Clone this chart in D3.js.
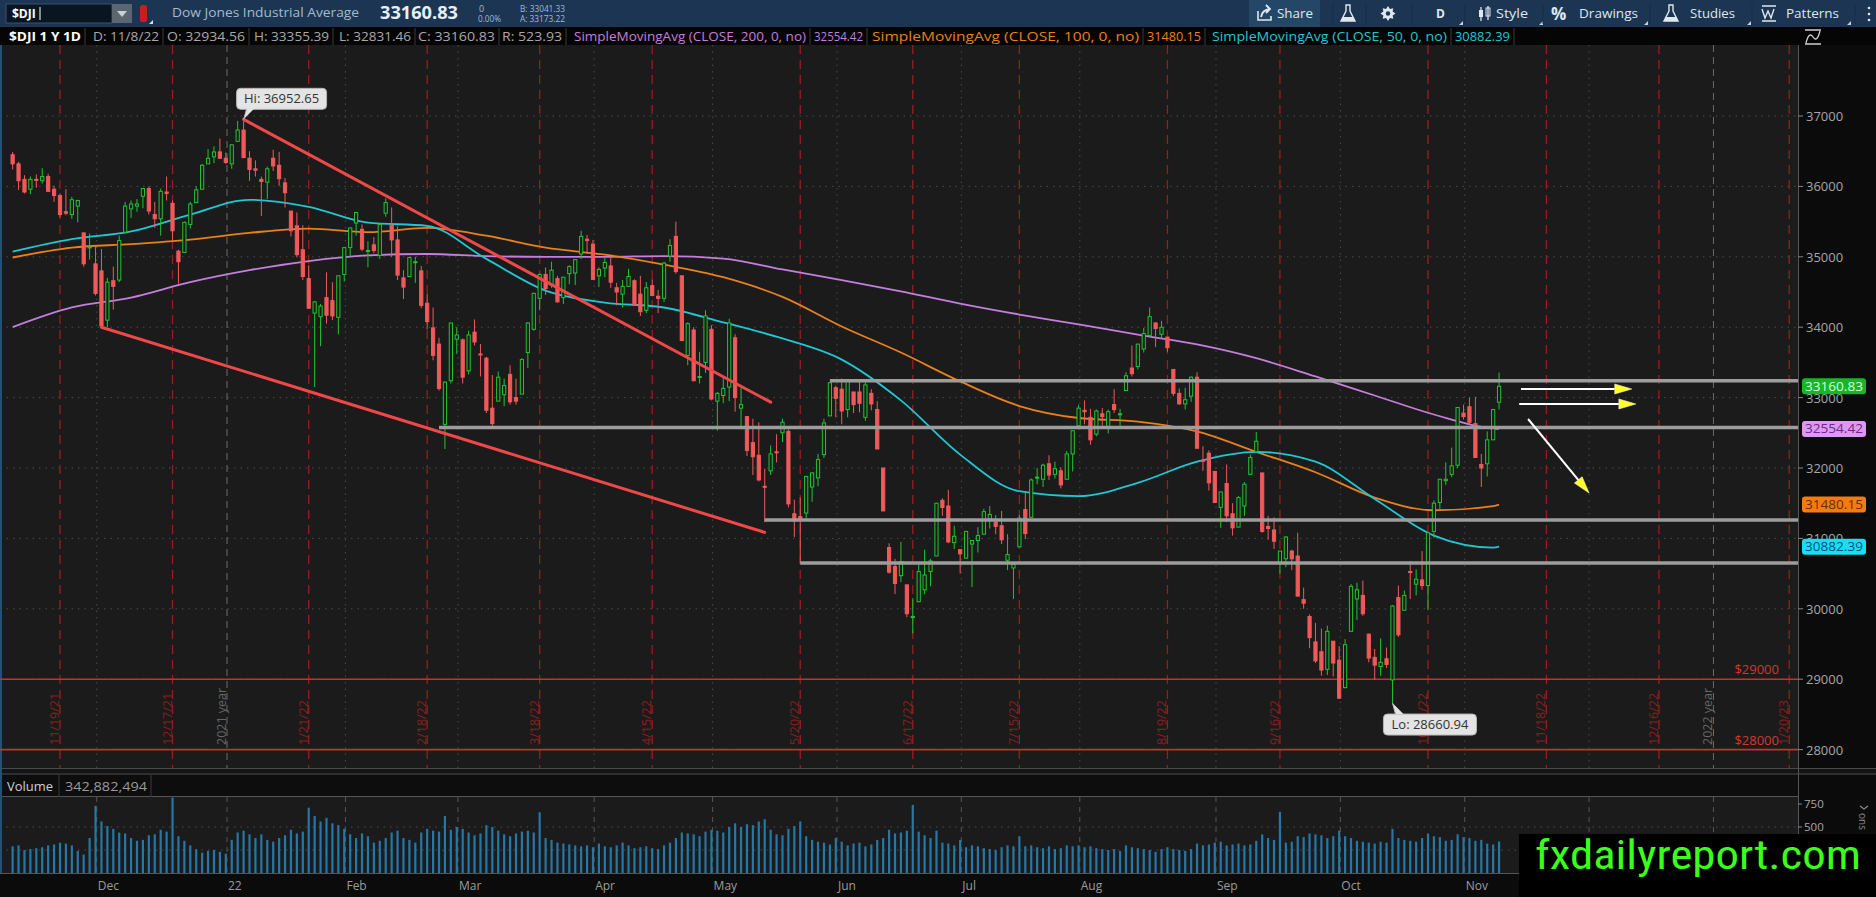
<!DOCTYPE html>
<html>
<head>
<meta charset="utf-8">
<script src="https://cdn.jsdelivr.net/npm/d3@7"></script>
<style>
html, body { margin: 0; padding: 0; background: #0b0b0b; overflow: hidden; }
svg { display: block; font-family: "Open Sans", "Liberation Sans", sans-serif; }
</style>
</head>
<body>
<div id="chart"></div>
<script>
// $DJI daily, 11/9/21 - 11/8/22

const opens = [
36450,36320,36100,35960,36100,36080,36140,35960,35870,35640,
35600,35720,35340,35140,34900,34800,34100,34660,34670,35350,
35680,35720,35860,35970,35600,35540,35920,35760,35080,35060,
35460,35770,35960,36320,36420,36490,36400,36320,36640,36800,
36400,36250,36100,36060,36400,36300,36050,35650,35440,35100,
34690,34200,34150,34420,34380,34140,34750,35130,35480,35390,
35080,35170,35020,35620,35450,35240,34700,34720,34920,34800,
34340,33990,33760,32620,33240,33830,33820,33380,33930,33620,
33560,32850,32950,33040,33330,33000,33050,33640,33970,34410,
34750,34600,34690,34420,34760,34770,35040,35250,35180,34730,
34840,34870,34560,34470,34580,34660,34470,34240,34590,34440,
34410,35010,35290,34730,33600,33960,33290,33500,33970,32950,
33030,33150,33850,32850,32730,32360,32180,31740,31960,32230,
32500,32520,31350,31310,31360,31730,31860,32190,32740,33140,
33120,32830,33080,33080,32720,33060,32830,32000,30870,30600,
30470,30340,29890,30100,30270,30530,30750,31540,31460,30940,
30840,30720,30920,30970,31060,31280,31230,31180,30690,30580,
30880,31410,31300,31860,31840,32060,31910,31960,31840,32200,
32600,32820,32720,32480,32770,32580,32900,32760,33100,33420,
33440,33690,33880,34060,33900,33860,33400,33060,32910,33020,
33290,32110,32210,31950,31440,31780,31350,31160,31460,31910,
32230,31930,31170,31120,30640,30710,30820,30750,30130,29890,
29530,29390,29140,29540,29270,28880,29680,30140,30190,29640,
29310,29180,29290,28990,30160,29980,30530,30350,30410,30330,
31100,31510,31820,31910,32040,32780,32870,32630,32050,32060,
32400,32934.56];

const highs = [
36490,36350,36160,36140,36170,36260,36180,36010,35900,35960,
35850,35810,35340,35330,35150,35110,34700,34860,35300,35780,
35800,35820,35980,36000,35780,35970,36140,35800,35100,35500,
35780,36000,36320,36530,36570,36680,36480,36600,36930,36952.65,
36500,36370,36140,36280,36520,36490,36120,35650,35630,35450,
34880,34370,34330,34780,34640,34730,35140,35410,35630,35460,
35220,35280,35480,35830,35700,35430,34810,35000,35000,34870,
34470,34280,33850,33230,34060,34000,33840,33950,34110,33760,
33580,33320,33370,33270,33460,33270,33560,34070,34490,34760,
34850,34930,34730,34710,34880,34960,35370,35310,35240,34850,
34990,35000,34630,34670,34830,34680,34730,34640,34680,34530,
34930,35250,35500,34730,34070,34000,33650,34240,34030,33080,
33300,34120,33900,33140,32740,32700,32650,31990,32320,32480,
32700,32550,31550,31580,31890,31940,32200,32700,33220,33170,
33270,33250,33080,33240,33230,33120,32950,32000,30930,30710,
30950,30340,30150,30650,30840,30710,31500,31570,31690,31180,
30840,31100,30930,31160,31420,31460,31330,31390,31060,30620,
31330,31650,31850,32000,32060,32180,32090,32010,32240,32530,
32900,32960,32840,32830,32850,32830,33120,32840,33360,33740,
33760,33990,34280,34070,34090,33860,33400,33130,33140,33300,
33360,32310,32250,31960,31660,32050,31500,31600,31800,32190,
32510,31930,31320,31300,30820,31030,30840,31080,30300,29920,
29800,29720,29760,29540,29470,29570,30350,30370,30400,29650,
29430,29580,29450,30050,30330,30260,30680,30560,30820,31090,
31540,31840,32080,32290,32860,32900,33000,33010,32200,32520,
32840,33355.39];

const lows = [
36240,35950,35900,35890,35980,36040,35920,35780,35560,35590,
35540,35490,34860,34960,34450,34000,34000,34250,34640,35350,
35550,35640,35690,35600,35410,35300,35800,35240,34620,35060,
35400,35770,35960,36320,36330,36390,36320,36250,36640,36400,
36080,36140,35580,35820,36220,36010,35700,35290,34990,34670,
34260,33150,33730,34050,34100,33900,34650,35000,35300,35080,
34850,35050,34970,35570,35000,34670,34400,34720,34630,34270,
33970,33530,33100,32270,33200,33620,33200,33330,33740,33300,
32780,32580,32950,32880,32900,32900,33050,33420,33950,34240,
34460,34560,34350,34330,34610,34600,34970,35040,34670,34570,
34710,34560,34310,34280,34580,34300,34160,34200,34440,34200,
34360,34930,34760,33800,33460,33230,33200,33350,32960,32530,
32920,32950,32800,32550,32170,31900,31810,31230,31900,32080,
32370,31440,31020,30640,31280,31520,31740,32140,32740,32720,
32620,32720,32780,32790,32670,32820,32270,31390,30500,30210,
30380,29880,29650,30100,30210,30320,30750,31320,30930,30850,
30500,30710,30310,30800,31060,31140,31060,30920,30550,30140,
30880,30990,31300,31770,31730,31830,31850,31710,31830,31950,
32550,32620,32330,32450,32600,32490,32780,32600,33100,33300,
33400,33640,33860,33720,33830,33650,33020,32900,32830,32940,
32280,31960,31680,31510,31150,31230,31040,31160,31320,31900,
32230,31080,30980,30850,30500,30590,30550,30180,30000,29440,
29230,29050,29060,29040,28720,28870,29680,29840,29900,29240,
28990,29050,29160,28660.94,29600,29980,30140,30190,30270,29980,
31010,31420,31760,31870,32000,32690,32610,32150,31730,31880,
32400,32831.46];

const closes = [
36320,36080,35920,36100,36090,36140,35930,35870,35600,35620,
35810,35800,34900,35140,34480,34020,34640,34580,35230,35720,
35750,35750,35970,35650,35540,35930,35900,35370,34930,35490,
35750,35950,36300,36400,36490,36400,36340,36590,36800,36410,
36240,36230,36070,36250,36290,36110,35910,35370,35030,34720,
34270,34360,34300,34170,34160,34730,35130,35410,35630,35110,
35090,35090,35460,35770,35240,34740,34570,34990,34930,34310,
34080,33600,33130,33220,34060,33890,33290,33890,33790,33610,
32820,32630,33290,33170,32940,32950,33540,34060,34480,34750,
34550,34810,34360,34710,34860,34960,35290,35230,34680,34820,
34920,34640,34500,34580,34720,34310,34220,34560,34450,34410,
34910,35160,34790,33810,34050,33240,33300,34160,32980,33060,
33130,34060,33000,32900,32250,32160,31830,31730,32200,32220,
32650,31490,31250,31260,31880,31930,32120,32640,33210,32990,
32810,33250,32900,32920,33180,32910,32270,31390,30520,30360,
30670,29930,29890,30530,30480,30680,31500,31440,30950,31030,
30780,31100,30970,31040,31380,31340,31170,30980,30770,30630,
31290,31070,31830,31870,32040,31900,31990,31760,32200,32530,
32850,32800,32400,32810,32730,32800,32830,32770,33310,33340,
33760,33910,34150,33980,34000,33710,33060,32910,32970,33290,
32280,32100,31790,31510,31660,31320,31150,31580,31770,32150,
32380,31100,31140,30960,30820,31020,30710,30180,30080,29590,
29260,29130,29680,29230,28730,29490,30320,30270,29930,29300,
29200,29240,29210,30040,29630,30190,30520,30420,30330,31080,
31500,31840,31840,32030,32860,32730,32650,32150,32000,32400,
32830,33160.83];

// volume, millions of shares
const volumes = [
290,300,250,260,270,280,300,310,330,320,
300,240,200,380,730,560,510,480,440,430,
380,350,360,410,420,470,450,820,400,350,
300,260,220,240,250,230,210,360,440,460,
420,380,420,360,340,380,410,470,430,450,
710,620,560,600,540,520,480,420,380,430,
400,330,350,380,440,460,380,360,330,440,
480,460,450,620,470,500,480,440,410,430,
520,500,460,420,400,430,450,460,440,660,
380,360,330,320,310,300,290,300,280,320,
290,280,300,330,300,270,280,290,270,260,
300,330,380,440,430,420,400,450,470,460,
440,500,540,500,530,520,560,585,470,420,
410,480,510,560,400,360,340,330,310,380,
340,300,320,330,290,310,360,380,470,430,
440,460,740,450,410,380,460,330,320,300,
360,280,300,290,270,260,250,280,300,290,
400,290,300,280,270,290,260,270,300,290,
300,280,290,270,260,250,260,240,300,280,
270,260,250,230,260,280,260,250,240,260,
320,300,310,330,340,300,310,320,300,310,
350,420,380,360,665,330,340,400,390,430,
420,410,380,400,460,400,380,350,340,330,
320,340,330,480,380,360,350,340,380,430,
400,390,350,360,420,390,380,350,360,320,
310,343];

// simple moving averages, sampled every 10 trading days (last = 11/8/22)
const smaDays = [0,10,20,30,40,50,60,70,80,90,100,110,120,130,140,150,160,170,180,190,200,210,220,230,240,250,251];
const sma200 = [34000,34280,34420,34640,34810,34940,35020,35040,35010,35000,35000,35010,34975,34820,34670,34510,34335,34180,34040,33895,33755,33560,33300,33030,32760,32560,32554.42];
const sma100 = [34990,35130,35180,35245,35340,35400,35350,35410,35300,35130,35030,34890,34710,34430,34010,33640,33230,32880,32710,32660,32520,32230,31940,31580,31400,31460,31480.15];
const sma50  = [35075,35250,35360,35600,35810,35710,35485,35440,34970,34520,34350,34280,34070,33840,33540,32960,32190,31670,31600,31790,32090,32230,32090,31560,31040,30870,30882.39];

// drawings on the chart
const levelPrices = [33240, 32574, 31262, 30650];
const levelStarts = ["2022-05-27", "2022-02-23", "2022-05-12", "2022-05-20"];
const trendFrom = [["2022-01-05", 36952.65], ["2021-12-01", 34000]];
const trendTo   = [["2022-05-13", 32935], ["2022-05-12", 31085]];
// arrows: [trading-day index, price]
const arrowFrom = [[254.7, 33122], [254.4, 32909], [255.9, 32696]];
const arrowTo   = [[273.4, 33122], [274.1, 32909], [266.2, 31645]];

const opexDates = ["2021-11-19","2021-12-17","2022-01-21","2022-02-18","2022-03-18","2022-04-15",
  "2022-05-20","2022-06-17","2022-07-15","2022-08-19","2022-09-16","2022-10-21","2022-11-18",
  "2022-12-16","2023-01-20"];
const holidays = ["2021-11-25","2021-12-24","2022-01-17","2022-02-21","2022-04-15","2022-05-30",
  "2022-06-20","2022-07-04","2022-09-05","2022-11-24","2022-12-26","2023-01-02","2023-01-16"];
const priceTicks = [28000,29000,30000,31000,32000,33000,34000,35000,36000,37000];
const volTicks = [500, 750];
const alertLines = [29000, 28000];
const monthNames = ["Dec","22","Feb","Mar","Apr","May","Jun","Jul","Aug","Sep","Oct","Nov","Dec","23"];

const legendItems = [
  {t: "$DJI 1 Y 1D", c: "#ffffff", b: true},
  {t: "D: 11/8/22", c: "#a9a9a9"},
  {t: "O: 32934.56", c: "#a9a9a9"},
  {t: "H: 33355.39", c: "#a9a9a9"},
  {t: "L: 32831.46", c: "#a9a9a9"},
  {t: "C: 33160.83", c: "#a9a9a9"},
  {t: "R: 523.93", c: "#a9a9a9"},
  {t: "SimpleMovingAvg (CLOSE, 200, 0, no)", c: "#c57ede"},
  {t: "32554.42", c: "#c57ede"},
  {t: "SimpleMovingAvg (CLOSE, 100, 0, no)", c: "#e8801c"},
  {t: "31480.15", c: "#e8801c"},
  {t: "SimpleMovingAvg (CLOSE, 50, 0, no)", c: "#22c6d2"},
  {t: "30882.39", c: "#22c6d2"}
];
const legendX = [9, 93, 167, 254, 339, 418, 502, 574, 814, 872, 1147, 1212, 1455];
const legendW = [72, 66, 78, 75, 72, 77, 60, 232, 49, 267, 54, 235, 55];

const W = 1876, H = 897;
const PLOT = {left: 0, right: 1798, top: 45, bottom: 768};
const VOL = {head: 775, top: 797, bottom: 873};

const fmtDay = d3.timeFormat("%Y-%m-%d");
const parseDay = d3.timeParse("%Y-%m-%d");
const fmtShort = d3.timeFormat("%-m/%-d/%y");

// trading calendar
const calendar = d3.timeDay.range(new Date(2021, 10, 9), new Date(2023, 1, 1))
  .filter(d => d.getDay() !== 0 && d.getDay() !== 6 && !holidays.includes(fmtDay(d)));
const idxOf = s => d3.bisectRight(calendar, parseDay(s)) - 1;

const candles = closes.map((c, i) => ({i, o: opens[i], h: highs[i], l: lows[i], c, v: volumes[i]}));

// scales
const x = d3.scaleLinear().domain([idxOf("2021-11-19"), idxOf("2022-10-21")]).range([60, 1428]);
const y = d3.scaleLinear().domain([28000, 37000]).range([749.6, 116]);
const yv = d3.scaleLinear().domain([0, 750]).range([VOL.bottom, 804]);

const svg = d3.select("#chart").append("svg").attr("width", W).attr("height", H);
const defs = svg.append("defs");
defs.append("clipPath").attr("id", "plotClip").append("rect")
  .attr("x", PLOT.left).attr("y", PLOT.top).attr("width", PLOT.right - PLOT.left).attr("height", PLOT.bottom - PLOT.top);
defs.append("clipPath").attr("id", "volClip").append("rect")
  .attr("x", 0).attr("y", VOL.top).attr("width", PLOT.right).attr("height", VOL.bottom - VOL.top);

function rect(g, x0, y0, w, h, fill) {
  return g.append("rect").attr("x", x0).attr("y", y0).attr("width", w).attr("height", h).attr("fill", fill);
}
function text(g, x0, y0, s, size, fill, opts = {}) {
  const t = g.append("text").attr("x", x0).attr("y", y0).text(s)
    .attr("font-size", size).attr("fill", fill);
  if (opts.bold) t.attr("font-weight", "bold");
  if (opts.anchor) t.attr("text-anchor", opts.anchor);
  if (opts.len) t.attr("textLength", opts.len).attr("lengthAdjust", "spacingAndGlyphs");
  if (opts.family) t.attr("font-family", opts.family);
  return t;
}

// ---------- backgrounds ----------
rect(svg, 0, 0, W, H, "#0b0b0b");
rect(svg, 0, 0, W, 27, "#1b3553");
rect(svg, 0, 27, W, 18, "#050505");
rect(svg, PLOT.left, PLOT.top, PLOT.right, PLOT.bottom - PLOT.top, "#1b1b1b");
rect(svg, 0, PLOT.bottom, W, VOL.head - PLOT.bottom, "#141414");
svg.append("line").attr("x1", 0).attr("x2", W).attr("y1", PLOT.bottom + 0.5).attr("y2", PLOT.bottom + 0.5).attr("stroke", "#4a4a4a");
svg.append("line").attr("x1", 0).attr("x2", W).attr("y1", VOL.head - 1).attr("y2", VOL.head - 1).attr("stroke", "#4a4a4a");
rect(svg, 0, VOL.head, PLOT.right, VOL.top - VOL.head, "#0d0d0d");
svg.append("line").attr("x1", 0).attr("x2", PLOT.right).attr("y1", VOL.top - 0.5).attr("y2", VOL.top - 0.5).attr("stroke", "#555");
rect(svg, 0, VOL.top, PLOT.right, VOL.bottom - VOL.top, "#1b1b1b");
svg.append("line").attr("x1", PLOT.right + 0.5).attr("x2", PLOT.right + 0.5).attr("y1", PLOT.top).attr("y2", VOL.bottom).attr("stroke", "#555");
svg.append("line").attr("x1", 0).attr("x2", PLOT.right).attr("y1", VOL.bottom + 0.5).attr("y2", VOL.bottom + 0.5).attr("stroke", "#555");
svg.append("line").attr("x1", 1).attr("x2", 1).attr("y1", PLOT.top).attr("y2", VOL.bottom).attr("stroke", "#23507a").attr("stroke-width", 2);

// ---------- toolbar ----------
const tb = svg.append("g");
rect(tb, 6, 4, 106, 19, "#0a1522").attr("stroke", "#3a536c");
text(tb, 12, 18, "$DJI", 12, "#ffffff", {bold: true});
tb.append("line").attr("x1", 40).attr("x2", 40).attr("y1", 7).attr("y2", 20).attr("stroke", "#fff");
rect(tb, 112, 4, 20, 19, "#5b6670");
tb.append("path").attr("d", "M117,11 h10 l-5,6 z").attr("fill", "#c9d0d6");
rect(tb, 140, 5, 7, 17, "#c51f1f").attr("rx", 2);
tb.append("path").attr("d", "M149,24 h4 v-4 z").attr("fill", "#d9e2ea");
text(tb, 172, 17, "Dow Jones Industrial Average", 13, "#a6bacd", {len: 187});
text(tb, 380, 19, "33160.83", 17, "#e7eef5", {bold: true, len: 78});
text(tb, 479, 12, "0", 9, "#a6bacd");
text(tb, 478, 22, "0.00%", 9, "#a6bacd", {len: 23});
text(tb, 520, 12, "B: 33041.33", 9, "#a6bacd", {len: 45});
text(tb, 520, 22, "A: 33173.22", 9, "#a6bacd", {len: 45});

rect(tb, 1249, 0, 71, 27, "#254767");
const ic = "#dfe7ef";
tb.append("path").attr("d", "M1258,11 v9 h13 v-4").attr("fill", "none").attr("stroke", ic).attr("stroke-width", 1.6);
tb.append("path").attr("d", "M1261,17 q1,-7 9,-8 M1266,5 l4,4 -4,4").attr("fill", "none").attr("stroke", ic).attr("stroke-width", 1.8);
text(tb, 1277, 18, "Share", 13, ic, {len: 36});
function flask(cx) {
  tb.append("path").attr("d", `M${cx - 2},5 v6 l-5,10 h14 l-5,-10 v-6 z`).attr("fill", "none").attr("stroke", ic).attr("stroke-width", 1.4);
  tb.append("path").attr("d", `M${cx - 5},17 h10 l2,4 h-14 z`).attr("fill", ic);
}
flask(1348);
flask(1671);
const gearPts = d3.range(16).map(k => {
  const a = k * Math.PI / 8, r = k % 2 ? 5 : 7.5;
  return [1388 + r * Math.cos(a), 13.5 + r * Math.sin(a)];
});
tb.append("polygon").attr("points", gearPts.map(p => p.join(",")).join(" ")).attr("fill", ic);
tb.append("circle").attr("cx", 1388).attr("cy", 13.5).attr("r", 2.2).attr("fill", "#1b3553");
text(tb, 1436, 18, "D", 12, ic, {bold: true});
tb.append("line").attr("x1", 1481).attr("x2", 1481).attr("y1", 7).attr("y2", 21).attr("stroke", ic).attr("stroke-width", 1.3);
rect(tb, 1479, 10, 4, 7, ic);
tb.append("line").attr("x1", 1488).attr("x2", 1488).attr("y1", 6).attr("y2", 20).attr("stroke", ic).attr("stroke-width", 1.3);
rect(tb, 1486, 8, 4, 8, "none").attr("stroke", ic);
text(tb, 1496, 18, "Style", 13, ic, {len: 32});
text(tb, 1551, 20, "%", 17, ic, {bold: true});
text(tb, 1579, 18, "Drawings", 13, ic, {len: 59});
text(tb, 1690, 18, "Studies", 13, ic, {len: 45});
tb.append("path").attr("d", "M1762,6 h14 M1762,9 l3,9 3,-7 3,7 3,-9 M1762,21 h14").attr("fill", "none").attr("stroke", ic).attr("stroke-width", 1.4);
text(tb, 1786, 18, "Patterns", 13, ic, {len: 53});
[1459, 1539, 1644, 1747, 1847].forEach(px => tb.append("path").attr("d", `M${px},25 h4 v-4 z`).attr("fill", "#c3cfdb"));
[1333, 1366, 1412, 1465, 1543, 1650, 1752, 1855].forEach(px =>
  tb.append("line").attr("x1", px).attr("x2", px).attr("y1", 3).attr("y2", 24).attr("stroke", "#15304b"));
[6, 12, 18].forEach(py => tb.append("circle").attr("cx", 1869).attr("cy", py + 2).attr("r", 1.3).attr("fill", ic));

// ---------- legend row ----------
const lg = svg.append("g");
legendItems.forEach((it, k) => {
  text(lg, legendX[k], 41, it.t, 12.5, it.c, {bold: it.b, len: legendW[k]});
  const sx = legendX[k] + legendW[k] + 4;
  lg.append("line").attr("x1", sx).attr("x2", sx).attr("y1", 28).attr("y2", 45).attr("stroke", "#3a3a3a");
});
lg.append("path").attr("d", "M1805,30 h16 M1806,43 q3,-12 7,-6 q4,6 7,-6 M1805,44 h16")
  .attr("fill", "none").attr("stroke", "#cfcfcf").attr("stroke-width", 1.3);

// ---------- main plot ----------
const plot = svg.append("g").attr("clip-path", "url(#plotClip)");

// horizontal grid
plot.selectAll(".hgrid").data(priceTicks).join("line")
  .attr("x1", 0).attr("x2", PLOT.right).attr("y1", d => y(d)).attr("y2", d => y(d))
  .attr("stroke", "#4b4b4b").attr("stroke-dasharray", "1.5,5");

// month boundaries
const monthStarts = calendar.map((d, i) => i).filter(i => i > 0 && calendar[i].getMonth() !== calendar[i - 1].getMonth());
const monthX = i => x(i - 0.8);
monthStarts.forEach(i => {
  const jan = calendar[i].getMonth() === 0;
  plot.append("line").attr("x1", monthX(i)).attr("x2", monthX(i)).attr("y1", PLOT.top).attr("y2", PLOT.bottom)
    .attr("stroke", jan ? "#6c6c6c" : "#4b4b4b").attr("stroke-dasharray", jan ? "7,5" : "1.5,5");
  if (jan) {
    plot.append("text").attr("transform", `translate(${monthX(i) - 1},745) rotate(-90)`)
      .attr("font-size", 12.5).attr("fill", "#666").text((calendar[i].getFullYear() - 1) + " year");
  }
});

// expiration lines
opexDates.forEach(s => {
  const px = x(idxOf(s));
  plot.append("line").attr("x1", px).attr("x2", px).attr("y1", PLOT.top).attr("y2", PLOT.bottom)
    .attr("stroke", "#9a1d1d").attr("stroke-width", 1.3).attr("stroke-dasharray", "9,6");
  plot.append("text").attr("transform", `translate(${px - 1},745) rotate(-90)`)
    .attr("font-size", 12.5).attr("fill", "#8a1f1f").text(fmtShort(parseDay(s)));
});

// price alert lines
alertLines.forEach(p => {
  plot.append("line").attr("x1", 0).attr("x2", PLOT.right).attr("y1", y(p)).attr("y2", y(p))
    .attr("stroke", "#c8302c").attr("stroke-width", 1.6);
  text(plot, 1779, y(p) - 5, "$" + p, 13, "#d2382f", {anchor: "end"});
});

// moving averages
const smaLine = vals => d3.line().x((d, k) => x(smaDays[k])).y(d => y(d)).curve(d3.curveMonotoneX)(vals);
[[sma200, "#c57ede"], [sma100, "#e8801c"], [sma50, "#22c6d2"]].forEach(([vals, col]) => {
  plot.append("path").attr("d", smaLine(vals)).attr("fill", "none").attr("stroke", col).attr("stroke-width", 1.8);
});

// candles
const up = "#22c52f", down = "#f05a5a";
const cg = plot.append("g");
cg.selectAll(".wick").data(candles).join("line")
  .attr("x1", d => x(d.i)).attr("x2", d => x(d.i)).attr("y1", d => y(d.h)).attr("y2", d => y(d.l))
  .attr("stroke", d => d.c >= d.o ? up : down).attr("stroke-width", 1);
cg.selectAll(".body").data(candles).join("rect")
  .attr("x", d => x(d.i) - 1.6).attr("width", 3.2)
  .attr("y", d => y(Math.max(d.o, d.c)))
  .attr("height", d => Math.max(1, y(Math.min(d.o, d.c)) - y(Math.max(d.o, d.c))))
  .attr("fill", d => d.c >= d.o ? "#1b1b1b" : down)
  .attr("stroke", d => d.c >= d.o ? up : down).attr("stroke-width", 1);

// support / resistance levels
levelPrices.forEach((p, k) => {
  plot.append("line").attr("x1", x(idxOf(levelStarts[k]))).attr("x2", PLOT.right)
    .attr("y1", y(p)).attr("y2", y(p)).attr("stroke", "#9d9d9d").attr("stroke-width", 3.5);
});

// trend lines
trendFrom.forEach((f, k) => {
  const t = trendTo[k];
  plot.append("line").attr("x1", x(idxOf(f[0]))).attr("y1", y(f[1]))
    .attr("x2", x(idxOf(t[0]))).attr("y2", y(t[1]))
    .attr("stroke", "#ef4848").attr("stroke-width", 3).attr("stroke-linecap", "round");
});

// arrows
arrowFrom.forEach((f, k) => {
  const x1 = x(f[0]), y1 = y(f[1]), x2 = x(arrowTo[k][0]), y2 = y(arrowTo[k][1]);
  const len = Math.hypot(x2 - x1, y2 - y1), ux = (x2 - x1) / len, uy = (y2 - y1) / len;
  const hx = x2 - ux * 17, hy = y2 - uy * 17;
  plot.append("line").attr("x1", x1).attr("y1", y1).attr("x2", hx).attr("y2", hy)
    .attr("stroke", "#ffffff").attr("stroke-width", 2);
  plot.append("polygon")
    .attr("points", [[x2, y2], [hx - uy * 5, hy + ux * 5], [hx + uy * 5, hy - ux * 5]].map(p => p.join(",")).join(" "))
    .attr("fill", "#ffff2a").attr("stroke", "#f4f4c8").attr("stroke-width", 0.6);
});

// high / low bubbles
function bubble(i, price, label, bx, by, bw) {
  const px = x(i), py = y(price);
  const g = plot.append("g");
  const tail = by < 0
    ? [[px, py], [px + 3, py + by + 20], [px + 11, py + by + 20]]
    : [[px, py], [px + 3, py + by], [px + 11, py + by]];
  g.append("rect").attr("x", px + bx).attr("y", py + by).attr("width", bw).attr("height", 21).attr("rx", 4)
    .attr("fill", "#e4e4e4").attr("stroke", "#b5b5b5");
  g.append("polygon").attr("points", tail.map(p => p.join(",")).join(" ")).attr("fill", "#e4e4e4");
  g.append("line").attr("x1", px).attr("y1", py).attr("x2", px + 3).attr("y2", by < 0 ? py + by + 21 : py + by)
    .attr("stroke", "#b5b5b5");
  text(g, px + bx + bw / 2, py + by + 15, label, 13, "#333", {anchor: "middle"});
}
const hiIdx = d3.maxIndex(highs), loIdx = d3.minIndex(lows);
bubble(hiIdx, highs[hiIdx], "Hi: " + highs[hiIdx].toFixed(2), -7, -31, 90);
bubble(loIdx, lows[loIdx], "Lo: " + lows[loIdx].toFixed(2), -9, 11, 93);

// ---------- right price axis ----------
const ax = svg.append("g");
priceTicks.forEach(p => {
  ax.append("line").attr("x1", PLOT.right).attr("x2", PLOT.right + 5).attr("y1", y(p)).attr("y2", y(p)).attr("stroke", "#888");
  text(ax, 1806, y(p) + 5, String(p), 13, "#a6a6a6");
});
const tags = [
  [closes[closes.length - 1], "#17b62a", "#d4ffd4"],
  [sma200[sma200.length - 1], "#de98f0", "#6e2a8a"],
  [sma100[sma100.length - 1], "#f27c10", "#6a2c00"],
  [sma50[sma50.length - 1], "#14e0f2", "#0b4d7c"]
];
tags.forEach(([v, bg, fg]) => {
  rect(ax, 1802, y(v) - 8, 64, 16, bg).attr("rx", 3);
  text(ax, 1834, y(v) + 4.5, v.toFixed(2), 13, fg, {anchor: "middle", len: 58});
});

// ---------- volume pane ----------
const vh = svg.append("g");
text(vh, 7, 791, "Volume", 12, "#d0d0d0", {len: 46});
vh.append("line").attr("x1", 59).attr("x2", 59).attr("y1", VOL.head).attr("y2", VOL.top).attr("stroke", "#3a3a3a");
text(vh, 65, 791, "342,882,494", 12, "#9a9a9a", {len: 82});
vh.append("line").attr("x1", 151).attr("x2", 151).attr("y1", VOL.head).attr("y2", VOL.top).attr("stroke", "#3a3a3a");

const vp = svg.append("g").attr("clip-path", "url(#volClip)");
[250, 500].forEach(v => vp.append("line").attr("x1", 0).attr("x2", PLOT.right).attr("y1", yv(v)).attr("y2", yv(v))
  .attr("stroke", "#4b4b4b").attr("stroke-dasharray", "1.5,5"));
monthStarts.forEach(i => vp.append("line").attr("x1", monthX(i)).attr("x2", monthX(i)).attr("y1", VOL.top).attr("y2", VOL.bottom)
  .attr("stroke", "#555").attr("stroke-dasharray", "5,5"));
vp.selectAll(".vbar").data(candles).join("rect")
  .attr("x", d => x(d.i) - 1.1).attr("width", 2.2)
  .attr("y", d => yv(d.v)).attr("height", d => yv(0) - yv(d.v))
  .attr("fill", "#2477a6");
volTicks.forEach(v => {
  svg.append("line").attr("x1", PLOT.right).attr("x2", PLOT.right + 4).attr("y1", yv(v)).attr("y2", yv(v)).attr("stroke", "#888");
  text(svg, 1804, yv(v) + 4, String(v), 11.5, "#a6a6a6");
});
svg.append("path").attr("d", "M1860,806 l4,3 4,-3").attr("fill", "none").attr("stroke", "#8a8a8a").attr("stroke-width", 1.2);
svg.append("text").attr("transform", "translate(1859,813) rotate(90)").attr("font-size", 10).attr("fill", "#8a8a8a").text("ons");

// month labels on the time axis
monthStarts.forEach((i, k) => {
  if (k < monthNames.length) text(svg, monthX(i) + 1, 890, monthNames[k], 12, "#9c9c9c");
});

// ---------- watermark ----------
rect(svg, 1519, 834, W - 1519, H - 834, "#000000");
text(svg, 1535, 869, "fxdailyreport.com", 40, "#3cff1c",
  {len: 326, family: "'Liberation Sans Narrow', 'Roboto Condensed', 'Open Sans', sans-serif"});
</script>
</body>
</html>
